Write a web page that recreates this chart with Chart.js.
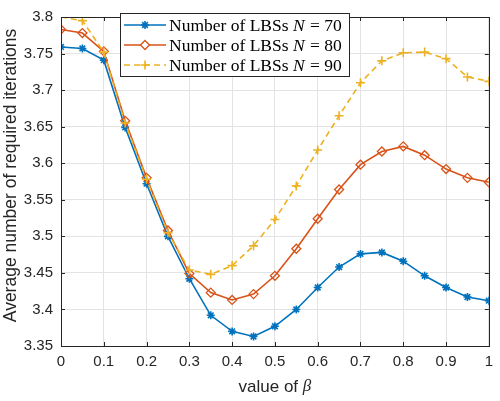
<!DOCTYPE html>
<html>
<head>
<meta charset="utf-8">
<script src="https://cdn.jsdelivr.net/npm/chart.js@4/dist/chart.umd.min.js"></script>
<style>
html,body{margin:0;padding:0;background:#fff;}
#wrap{width:500px;height:401px;position:relative;}
</style>
</head>
<body>
<div id="wrap"><canvas id="c" width="500" height="401"></canvas></div>
<script>
const betas = [0,0.05,0.1,0.15,0.2,0.25,0.3,0.35,0.4,0.45,0.5,0.55,0.6,0.65,0.7,0.75,0.8,0.85,0.9,0.95,1];
const lbs70 = [3.759,3.757,3.741,3.649,3.572,3.500,3.442,3.392,3.370,3.363,3.377,3.400,3.430,3.458,3.476,3.478,3.466,3.446,3.430,3.417,3.412];
const lbs80 = [3.783,3.778,3.753,3.658,3.580,3.508,3.449,3.423,3.413,3.421,3.446,3.483,3.524,3.564,3.598,3.616,3.623,3.611,3.592,3.580,3.574];
const lbs90 = [3.800,3.795,3.752,3.655,3.578,3.505,3.454,3.448,3.460,3.487,3.523,3.569,3.618,3.665,3.710,3.740,3.751,3.752,3.743,3.718,3.712];
const seriesNames = ["70","80","90"];
const xTitle = "value of ";
const xTitleSym = "\u03B2";
const yTitle = "Average number of required iterations";

const C_BLUE = "#0072BD", C_RED = "#D95319", C_YEL = "#EDB120";
const AX = "#262626";
const SANS = '"Liberation Sans", Arial, sans-serif';
const SERIF = '"Liberation Serif", "DejaVu Serif", serif';

function pts(arr){ return betas.map((b,i)=>({x:b,y:arr[i]})); }

const datasets = [
  {label:seriesNames[0], data:pts(lbs70), borderColor:C_BLUE, backgroundColor:C_BLUE, borderWidth:1.6,
   pointStyle:'star', pointRadius:4, pointBorderWidth:1.6, pointBorderColor:C_BLUE, order:2, tension:0},
  {label:seriesNames[1], data:pts(lbs80), borderColor:C_RED, backgroundColor:'#ffffff', borderWidth:1.6,
   pointStyle:'rectRot', pointRadius:4.5, pointBorderWidth:1.3, pointBorderColor:C_RED, pointBackgroundColor:'rgba(255,255,255,0)', order:1, tension:0},
  {label:seriesNames[2], data:pts(lbs90), borderColor:C_YEL, backgroundColor:C_YEL, borderWidth:1.6, borderDash:[6,4],
   pointStyle:'cross', pointRadius:4.5, pointBorderWidth:1.6, pointBorderColor:C_YEL, order:0, tension:0}
];

const decor = {
  id:'decor',
  afterDatasetsDraw(chart){
    const ctx = chart.ctx, a = chart.chartArea;
    const xs = chart.scales.x, ys = chart.scales.y;
    ctx.save();
    ctx.strokeStyle = AX; ctx.lineWidth = 1;
    ctx.strokeRect(Math.round(a.left)+0.5, Math.round(a.top)+0.5, Math.round(a.right-a.left), Math.round(a.bottom-a.top));
    const tl = 4;
    ctx.beginPath();
    xs.ticks.forEach(t=>{
      const px = Math.round(xs.getPixelForValue(t.value))+0.5;
      ctx.moveTo(px,a.bottom); ctx.lineTo(px,a.bottom-tl);
      ctx.moveTo(px,a.top); ctx.lineTo(px,a.top+tl);
    });
    ys.ticks.forEach(t=>{
      const py = Math.round(ys.getPixelForValue(t.value))+0.5;
      ctx.moveTo(a.left,py); ctx.lineTo(a.left+tl,py);
      ctx.moveTo(a.right,py); ctx.lineTo(a.right-tl,py);
    });
    ctx.stroke();

    // legend
    const bx=120.5, by=13.5, bw=229, bh=63;
    ctx.fillStyle='#fff'; ctx.fillRect(bx,by,bw,bh);
    ctx.strokeStyle=AX; ctx.lineWidth=1; ctx.strokeRect(bx,by,bw,bh);
    const rows=[25,45,65];
    datasets.forEach((ds,i)=>{
      const y=rows[i];
      ctx.save();
      ctx.strokeStyle=ds.borderColor; ctx.lineWidth=ds.borderWidth;
      if(ds.borderDash) ctx.setLineDash(ds.borderDash);
      ctx.beginPath(); ctx.moveTo(124,y); ctx.lineTo(166,y); ctx.stroke();
      ctx.setLineDash([]);
      ctx.strokeStyle=ds.pointBorderColor; ctx.fillStyle=(i===1)?'#ffffff':ds.borderColor;
      ctx.lineWidth=ds.pointBorderWidth;
      Chart.helpers.drawPoint(ctx,{pointStyle:ds.pointStyle,radius:ds.pointRadius,borderWidth:ds.pointBorderWidth,rotation:0},145,y);
      ctx.restore();
      ctx.fillStyle='#000'; ctx.textBaseline='middle'; ctx.textAlign='left';
      let x=169;
      ctx.font='17.5px '+SERIF;
      const s1='Number of LBSs ';
      ctx.fillText(s1,x,y+1); x+=ctx.measureText(s1).width;
      ctx.font='italic 17.5px '+SERIF;
      ctx.fillText('N',x,y+1); x+=ctx.measureText('N').width;
      ctx.font='17.5px '+SERIF;
      ctx.fillText(' = '+ds.label,x+1,y+1);
    });

    // x title
    ctx.fillStyle=AX; ctx.textBaseline='middle';
    ctx.font='17px '+SANS;
    const w1=ctx.measureText(xTitle).width;
    ctx.font='italic 17px '+SERIF;
    const w2=ctx.measureText(xTitleSym).width;
    let cx=(a.left+a.right)/2 - (w1+w2)/2;
    ctx.textAlign='left';
    ctx.font='17px '+SANS;
    ctx.fillText(xTitle,cx,387);
    ctx.font='italic 17px '+SERIF;
    ctx.fillText(xTitleSym,cx+w1,387);

    // y title
    ctx.save();
    ctx.translate(11,175.5);
    ctx.rotate(-Math.PI/2);
    ctx.textAlign='center'; ctx.textBaseline='middle';
    ctx.font='17.5px '+SANS;
    ctx.fillText(yTitle,0,0);
    ctx.restore();
    ctx.restore();
  }
};

new Chart(document.getElementById('c'),{
  type:'line',
  data:{datasets},
  options:{
    responsive:false, animation:false, devicePixelRatio:1,
    layout:{padding:{top:8,right:5,left:0,bottom:0}},
    plugins:{legend:{display:false},tooltip:{enabled:false}},
    scales:{
      x:{type:'linear',min:0,max:1,
         ticks:{stepSize:0.1,color:AX,padding:7,font:{family:SANS,size:15},
           callback:v=>String(Math.round(v*10)/10)},
         grid:{color:'#e3e3e3',drawTicks:false},border:{display:false},
         afterFit:s=>{s.height=55;}},
      y:{min:3.35,max:3.8,
         ticks:{stepSize:0.05,color:AX,padding:8,font:{family:SANS,size:15},
           callback:v=>String(Math.round(v*100)/100)},
         grid:{color:'#e3e3e3',drawTicks:false},border:{display:false},
         afterFit:s=>{s.width=61;}}
    }
  },
  plugins:[decor]
});
</script>
</body>
</html>
